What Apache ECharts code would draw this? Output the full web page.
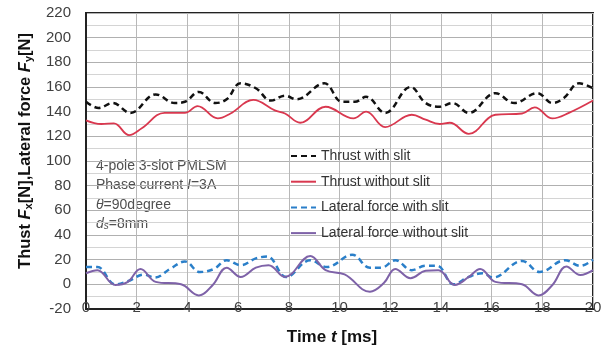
<!DOCTYPE html>
<html>
<head>
<meta charset="utf-8">
<script src="https://cdn.jsdelivr.net/npm/echarts@6/dist/echarts.min.js"></script>
<style>
html, body { margin: 0; padding: 0; background: #fff; }
#chart { width: 608px; height: 347px; }
</style>
</head>
<body>
<div id="chart"></div>
<script>
// values (time in ms, force in N)
var thrustSlitT = [0, 0.5, 1.05, 1.75, 2.75, 3.5, 3.9, 4.45, 5.1, 5.55, 6.1, 6.7, 7.3, 7.85, 8.3, 9.4, 10.1, 10.6, 11.05, 11.8, 12.8, 13.4, 13.95, 14.45, 15.1, 16.15, 16.9, 17.8, 18.4, 18.85, 19.45, 20];
var thrustSlit  = [148, 143, 147, 139, 154, 147, 148, 156, 147, 150, 163, 159, 149, 153, 150, 163, 148, 148, 152, 139, 160, 147, 144, 147, 139, 155, 147, 155, 147, 151, 163, 159];

var thrustNoSlitT = [0, 0.6, 1.1, 1.7, 2.2, 3.1, 3.9, 4.4, 5.2, 5.7, 6.6, 7.45, 7.85, 8.45, 9.45, 10.55, 11.05, 11.8, 12.85, 13.4, 13.95, 14.35, 15.1, 16.15, 17.2, 17.7, 18.4, 19.05, 20];
var thrustNoSlit  = [133, 130, 130.5, 121, 126.5, 139, 139, 144.5, 134.5, 138.5, 149.5, 141, 138.5, 131, 144, 134.5, 140, 127.5, 137.5, 133.5, 130, 131, 122, 137.5, 138.5, 143.5, 134.5, 139, 149];

var latSlitT = [0, 0.45, 1.15, 1.65, 2.3, 2.7, 3.35, 3.9, 4.5, 5.05, 5.55, 6.1, 6.7, 7.15, 7.9, 8.85, 9.5, 10.5, 11.2, 11.65, 12.2, 12.85, 13.4, 13.85, 14.5, 15.1, 15.65, 16.05, 17.2, 17.9, 18.9, 19.5, 20];
var latSlit  = [14, 14, 0, 2.5, 8, 5.5, 13, 18.5, 10, 12.5, 19.5, 15.5, 21, 22.5, 6, 19.5, 14, 24, 13.5, 13.5, 19.5, 11.5, 15, 15, 0, 6, 9, 5.5, 19, 10, 19.5, 15, 20];

var latNoSlitT = [0, 0.45, 1.15, 1.65, 2.15, 2.75, 3.75, 4.45, 5.0, 5.55, 6.1, 6.7, 7.2, 7.85, 8.85, 9.45, 10.2, 11.2, 11.75, 12.2, 12.8, 13.4, 13.9, 14.55, 15.1, 15.55, 16.15, 17.2, 17.85, 18.4, 18.95, 19.5, 20];
var latNoSlit  = [9, 11.5, -0.5, 2, 12.5, 2, 0, -9, -0.5, 13.5, 6, 13.5, 15.5, 6, 23, 11.5, 8, -6, 1, 12.5, 5, 11, 11.5, -0.5, 6, 12.5, 2, 0, -9, -0.5, 14.5, 7.5, 11.5];

var seriesNames = ['Thrust with slit', 'Thrust without slit', 'Lateral force with slit', 'Lateral force without slit'];

function pairs(t, v) {
    var out = [];
    for (var i = 0; i < t.length; i++) out.push([t[i], v[i]]);
    return out;
}

var FONT = 'Liberation Sans';
var chart = echarts.init(document.getElementById('chart'));

chart.setOption({
    backgroundColor: '#fff',
    animation: false,
    grid: {
        left: 86, right: 15, top: 13, bottom: 38,
        show: true,
        borderColor: '#222',
        borderWidth: 2
    },
    legend: {
        orient: 'vertical',
        left: 290,
        top: 149,
        padding: 0,
        itemWidth: 25,
        itemHeight: 12,
        itemGap: 11.7,
        data: seriesNames,
        itemStyle: { opacity: 0 },   // hide the marker, keep the line
        textStyle: { fontFamily: FONT, fontSize: 14, color: '#333' }
    },
    xAxis: {
        type: 'value',
        min: 0, max: 20, interval: 2,
        axisLine: { onZero: false, lineStyle: { color: '#222', width: 2 } },
        axisTick: { show: false },
        axisLabel: { margin: -9, fontFamily: FONT, fontSize: 15, color: '#404040' },
        splitLine: { lineStyle: { color: '#b8b8b8', width: 1 } }
    },
    yAxis: {
        type: 'value',
        min: -20, max: 220, interval: 20,
        axisLine: { show: true, lineStyle: { color: '#222', width: 2 } },
        axisTick: { show: false },
        axisLabel: { margin: 15, fontFamily: FONT, fontSize: 15, color: '#404040' },
        splitLine: { lineStyle: { color: '#b0b0b0', width: 1 } },
        minorTick: { show: false, splitNumber: 2 },
        minorSplitLine: { show: true, lineStyle: { color: '#d4d4d4', width: 1 } }
    },
    graphic: [
        {
            type: 'text', x: 25, y: 151, rotation: Math.PI / 2,
            style: {
                text: '{b|Thust }{i|F}{s|x}{b|[N],Lateral force }{i|F}{s|y}{b|[N]}',
                align: 'center', verticalAlign: 'middle',
                rich: {
                    b: { fontFamily: FONT, fontSize: 16.5, fontWeight: 'bold', fill: '#111' },
                    i: { fontFamily: FONT, fontSize: 16.5, fontWeight: 'bold', fontStyle: 'italic', fill: '#111' },
                    s: { fontFamily: FONT, fontSize: 11, fontWeight: 'bold', fill: '#111', verticalAlign: 'bottom', padding: [7, 0, 0, 0] }
                }
            }
        },
        {
            type: 'text', x: 332, y: 337,
            style: {
                text: '{b|Time }{i|t}{b| [ms]}',
                align: 'center', verticalAlign: 'middle',
                rich: {
                    b: { fontFamily: FONT, fontSize: 17, fontWeight: 'bold', fill: '#111' },
                    i: { fontFamily: FONT, fontSize: 17, fontWeight: 'bold', fontStyle: 'italic', fill: '#111' }
                }
            }
        },
        {
            type: 'text', x: 96, y: 166,
            style: { text: '4-pole 3-slot PMLSM', font: '14px "Liberation Sans"', fill: '#505050', verticalAlign: 'middle' }
        },
        {
            type: 'text', x: 96, y: 185,
            style: {
                text: '{r|Phase current }{i|I}{r|=3A}', verticalAlign: 'middle',
                rich: {
                    r: { fontFamily: FONT, fontSize: 14, fill: '#505050' },
                    i: { fontFamily: FONT, fontSize: 14, fontStyle: 'italic', fill: '#505050' }
                }
            }
        },
        {
            type: 'text', x: 96, y: 205,
            style: {
                text: '{i|θ}{r|=90degree}', verticalAlign: 'middle',
                rich: {
                    r: { fontFamily: FONT, fontSize: 14, fill: '#505050' },
                    i: { fontFamily: FONT, fontSize: 14, fontStyle: 'italic', fill: '#505050' }
                }
            }
        },
        {
            type: 'text', x: 96, y: 224,
            style: {
                text: '{i|d}{s|s}{r|=8mm}', verticalAlign: 'middle',
                rich: {
                    r: { fontFamily: FONT, fontSize: 14, fill: '#505050' },
                    i: { fontFamily: FONT, fontSize: 14, fontStyle: 'italic', fill: '#505050' },
                    s: { fontFamily: FONT, fontSize: 10, fontStyle: 'italic', fill: '#505050', verticalAlign: 'bottom', padding: [5, 0, 0, 0] }
                }
            }
        }
    ],
    series: [
        {
            name: seriesNames[0], type: 'line', smooth: 0.4, showSymbol: false,
            data: pairs(thrustSlitT, thrustSlit),
            lineStyle: { color: '#111', width: 2.5, type: [6, 4] },
            itemStyle: { color: '#111' }
        },
        {
            name: seriesNames[1], type: 'line', smooth: 0.4, showSymbol: false,
            data: pairs(thrustNoSlitT, thrustNoSlit),
            lineStyle: { color: '#d9384f', width: 1.8 },
            itemStyle: { color: '#d9384f' }
        },
        {
            name: seriesNames[2], type: 'line', smooth: 0.4, showSymbol: false,
            data: pairs(latSlitT, latSlit),
            lineStyle: { color: '#2a7fc9', width: 2.5, type: [6, 4] },
            itemStyle: { color: '#2a7fc9' }
        },
        {
            name: seriesNames[3], type: 'line', smooth: 0.4, showSymbol: false,
            data: pairs(latNoSlitT, latNoSlit),
            lineStyle: { color: '#7e62a8', width: 2 },
            itemStyle: { color: '#7e62a8' }
        }
    ]
});
</script>
</body>
</html>
